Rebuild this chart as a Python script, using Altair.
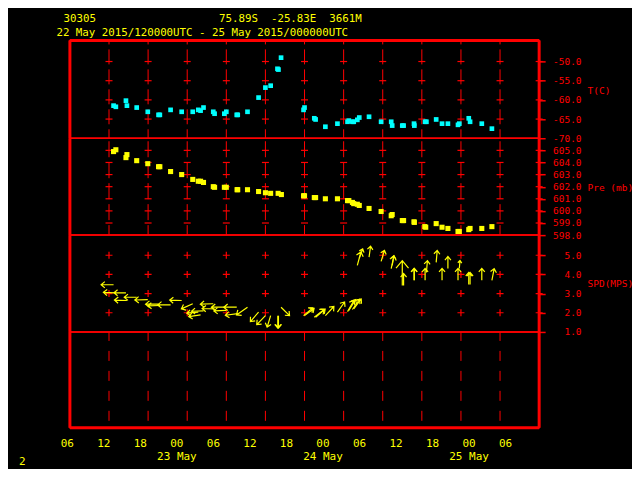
import altair as alt
import pandas as pd

RED = "#ff0000"
YEL = "#ffff00"
CYAN = "#00ffff"
FONT = "DejaVu Sans Mono"

# ---------------- data (hours after 22 May 2015 06 UTC) ----------------
t_hours = [6.7, 7.05, 8.6, 8.75, 10.25, 11.95, 13.6, 13.8, 15.45, 17.15, 18.85, 19.7,
           20.05, 20.5, 22.0, 22.2, 23.7, 24.0, 25.6, 25.75, 27.25, 28.95, 30.0, 30.8,
           31.85, 32.0, 32.4, 35.85, 36.0, 37.5, 37.7, 39.2, 41.05, 42.6, 42.8, 43.35,
           43.55, 44.1, 44.4, 45.9, 47.75, 49.3, 49.45, 51.0, 51.2, 52.8, 52.85, 54.5,
           54.7, 56.2, 57.1, 58.0, 59.55, 59.75, 61.2, 61.4, 63.2, 64.75]
t_vals = [-61.5, -61.8, -60.2, -61.5, -62.0, -63.1, -63.9, -63.9, -62.6, -63.1, -63.1, -62.6,
          -62.8, -62.0, -63.1, -63.6, -63.6, -63.1, -63.9, -63.9, -63.1, -59.4, -56.8, -56.3,
          -51.9, -52.1, -49.0, -62.6, -62.0, -64.8, -65.1, -67.0, -66.2, -65.7, -65.4, -65.7,
          -65.7, -65.2, -64.6, -64.4, -65.7, -65.7, -66.7, -66.7, -66.7, -66.2, -66.7, -65.7,
          -65.7, -65.1, -66.2, -66.2, -66.5, -66.2, -64.8, -65.7, -66.2, -67.5]

p_hours = [6.7, 7.05, 8.6, 8.75, 10.25, 11.95, 13.6, 13.8, 15.45, 17.15, 18.85, 19.7,
           20.05, 20.5, 22.0, 22.2, 23.7, 24.0, 25.65, 25.75, 27.25, 28.95, 30.0, 30.8,
           31.95, 32.45, 35.85, 36.0, 37.5, 37.7, 39.2, 41.05, 42.6, 42.8, 43.35, 43.55,
           44.1, 44.4, 45.9, 47.75, 49.3, 49.45, 51.0, 51.2, 52.8, 52.85, 54.45, 54.6,
           56.2, 57.1, 58.0, 59.55, 59.75, 61.2, 61.4, 63.2, 64.75]
p_vals = [604.9, 605.05, 604.4, 604.65, 604.15, 603.9, 603.65, 603.65, 603.25, 603.0, 602.6, 602.45,
          602.45, 602.35, 602.0, 601.95, 601.95, 601.95, 601.75, 601.75, 601.75, 601.6, 601.5, 601.45,
          601.45, 601.35, 601.25, 601.25, 601.1, 601.1, 601.0, 601.0, 600.85, 600.85, 600.7, 600.6,
          600.55, 600.45, 600.2, 599.95, 599.6, 599.7, 599.2, 599.2, 599.1, 599.05, 598.7, 598.65,
          598.95, 598.65, 598.55, 598.3, 598.3, 598.45, 598.55, 598.55, 598.7]

# wind: tail position (hour, speed m/s), direction the arrow points to
# (degrees clockwise from up) and arrow magnitude
w_hours = [6.7, 7.05, 8.6, 8.75, 10.25, 11.95, 13.6, 13.8, 15.45, 17.15, 18.85, 19.7,
           20.05, 20.5, 22.0, 22.2, 23.7, 24.0, 25.6, 25.75, 27.25, 28.95, 30.0, 30.8,
           31.9, 32.0, 32.4, 35.85, 36.0, 37.5, 37.7, 39.2, 41.05, 42.6, 42.8, 43.35,
           43.55, 44.1, 44.4, 45.9, 47.75, 49.3, 49.45, 51.0, 51.2, 52.8, 52.85, 54.5,
           54.7, 56.2, 57.1, 58.0, 59.55, 59.75, 61.2, 61.4, 63.2, 64.75]
w_spd = [3.46, 3.04, 3.04, 2.64, 2.81, 2.69, 2.45, 2.38, 2.41, 2.64, 2.47, 2.03,
         1.89, 2.1, 2.47, 2.2, 2.29, 2.12, 2.29, 1.96, 2.29, 2.03, 1.85, 1.85,
         1.85, 1.85, 2.29, 1.85, 1.85, 1.77, 1.77, 1.85, 2.03, 2.06, 2.12, 2.17,
         2.2, 4.47, 4.84, 4.9, 4.68, 4.3, 4.47, 3.42, 3.42, 3.69, 3.69, 3.69,
         4.1, 4.63, 3.69, 4.31, 3.69, 4.31, 3.48, 3.48, 3.69, 3.69]
w_dir = [270, 272, 270, 272, 270, 268, 270, 268, 270, 272, 246, 265,
         262, 268, 268, 272, 270, 268, 270, 262, 235, 221, 224, 197,
         180, 180, 135, 50, 53, 52, 50, 43, 35, 30, 32, 35,
         37, 15, 20, 8, 17, 12, 10, 0, 0, 0, 0, 0,
         5, 5, 0, 0, 0, 5, 0, 0, 0, 11]
w_mag = [2.5, 2.5, 2.4, 2.5, 2.5, 2.6, 2.6, 2.4, 2.6, 2.4, 2.5, 2.3,
         2.4, 2.4, 2.6, 2.5, 2.6, 2.5, 2.6, 2.5, 2.7, 2.5, 2.5, 2.4,
         2.5, 2.5, 2.4, 2.4, 2.4, 2.5, 2.5, 2.5, 2.5, 2.6, 2.6, 2.5,
         2.5, 2.8, 2.0, 2.2, 2.3, 2.6, 2.0, 5.0, 2.4, 2.4, 2.4, 2.4,
         2.4, 2.4, 2.4, 2.4, 2.4, 1.6, 2.4, 2.4, 2.4, 2.4]

hour_ticks = [6, 12, 18, 24, 30, 36, 42, 48, 54, 60, 66, 72]
hour_labels = ["06", "12", "18", "00", "06", "12", "18", "00", "06", "12", "18", "00", "06"]
date_labels = {3: "23 May", 7: "24 May", 11: "25 May"}
t_ticks = [-50, -55, -60, -65, -70]
p_ticks = [605, 604, 603, 602, 601, 600, 599, 598]
w_ticks = [5, 4, 3, 2, 1]

NB = "\u00a0"
title_line1 = "30305" + NB * 19 + "75.89S" + NB * 2 + "-25.83E" + NB * 2 + "3661M"
title_line2 = "22 May 2015/120000UTC - 25 May 2015/000000UTC".replace(" ", NB)

# ---------------- layout ----------------
W = 470
HT, HP, HW, HL = 98, 97, 97, 96
T_DOM = [-70, -44.5]
P_DOM = [598, 606]
W_DOM = [1, 6.05]
L_DOM = [0, 1]

xs = alt.Scale(domain=[0, 72], nice=False, zero=False)


def xenc(field="h"):
    return alt.X(f"{field}:Q", scale=xs, axis=None)


def right_axis(values, title, title_y):
    return alt.Axis(
        orient="right", values=values, domain=False, grid=False,
        tickColor=RED, tickSize=6, tickWidth=1.5,
        labelColor=RED, labelFont=FONT, labelFontSize=9.5,
        labelAlign="right", labelPadding=36, labelBaseline="middle",
        labelExpr="replace(format(datum.value, '.1f'), '\u2212', '-')",
        labelOverlap=False, labelFlush=False, labelBound=False,
        title=title, titleColor=RED, titleFont=FONT, titleFontSize=9.5,
        titleFontWeight="normal", titleAngle=0, titleAlign="left",
        titleBaseline="middle", titleX=48, titleY=title_y,
    )


def frame_layer(dom, top=False, bottom=False, yaxis=None):
    rows = [{"x": 0, "x2": 0, "y": dom[0], "y2": dom[1]},
            {"x": 72, "x2": 72, "y": dom[0], "y2": dom[1]}]
    if top:
        rows.append({"x": 0, "x2": 72, "y": dom[1], "y2": dom[1]})
    if bottom:
        rows.append({"x": 0, "x2": 72, "y": dom[0], "y2": dom[0]})
    ys = alt.Scale(domain=dom, nice=False, zero=False)
    return alt.Chart(pd.DataFrame(rows)).mark_rule(color=RED, strokeWidth=3).encode(
        x=xenc("x"), x2="x2:Q",
        y=alt.Y("y:Q", scale=ys, axis=yaxis), y2="y2:Q")


def vlines(dom, dash, offset, yaxis=None):
    ys = alt.Scale(domain=dom, nice=False, zero=False)
    df = pd.DataFrame({"h": hour_ticks[:-1]})
    df["y"] = dom[0]
    df["y2"] = dom[1]
    return alt.Chart(df).mark_rule(color=RED, strokeWidth=1, strokeDash=dash,
                                   strokeDashOffset=offset).encode(
        x=xenc(), y=alt.Y("y:Q", scale=ys, axis=yaxis), y2="y2:Q")


def crosses(dom, levels, shape, yaxis=None):
    ys = alt.Scale(domain=dom, nice=False, zero=False)
    df = pd.DataFrame([{"h": h, "y": v} for h in hour_ticks for v in levels])
    return alt.Chart(df).mark_point(shape=shape, size=49, filled=False, stroke=RED,
                                    strokeWidth=1.2, opacity=1).encode(
        x=xenc(), y=alt.Y("y:Q", scale=ys, axis=yaxis))


BAR = "M-1,0L1,0"
PLUS = "M-1,0L1,0M0,-1L0,1"
ARROW = "M0,0L0,-2M-0.5,-1.4L0,-2L0.5,-1.4"

# --- temperature panel ---
t_axis = right_axis(t_ticks, "T(C)", 50)
t_scale = alt.Scale(domain=T_DOM, nice=False, zero=False)
t_df = pd.DataFrame({"h": t_hours, "T": t_vals})
t_points = alt.Chart(t_df).mark_square(size=22, color=CYAN, opacity=1).encode(
    x=xenc(), y=alt.Y("T:Q", scale=t_scale, axis=t_axis))
t_panel = alt.layer(
    vlines(T_DOM, [15, 5], 6, t_axis),
    crosses(T_DOM, t_ticks[:-1], BAR, t_axis),
    frame_layer(T_DOM, top=True, yaxis=t_axis),
    t_points,
).properties(
    width=W, height=HT,
    title=alt.TitleParams(title_line2, anchor="start", frame="group",
                          color=YEL, font=FONT, fontSize=10.8, fontWeight="normal",
                          offset=1, dx=-13.5),
)

# --- pressure panel ---
p_axis = right_axis(p_ticks, "Pre (mb)", 49)
p_scale = alt.Scale(domain=P_DOM, nice=False, zero=False)
p_df = pd.DataFrame({"h": p_hours, "P": p_vals})
p_points = alt.Chart(p_df).mark_square(size=26, color=YEL, opacity=1).encode(
    x=xenc(), y=alt.Y("P:Q", scale=p_scale, axis=p_axis))
p_panel = alt.layer(
    vlines(P_DOM, [16, 5], 6, p_axis),
    crosses(P_DOM, p_ticks[1:-1] + [605], BAR, p_axis),
    frame_layer(P_DOM, yaxis=p_axis),
    p_points,
).properties(width=W, height=HP)

# --- wind panel ---
w_axis = right_axis(w_ticks, "SPD(MPS)", 48)
w_scale = alt.Scale(domain=W_DOM, nice=False, zero=False)
w_df = pd.DataFrame({"h": w_hours, "spd": w_spd, "dir": w_dir, "mag": w_mag})
w_arrows = alt.Chart(w_df).mark_point(shape=ARROW, filled=False, stroke=YEL,
                                      strokeWidth=1.2, opacity=1).encode(
    x=xenc(), y=alt.Y("spd:Q", scale=w_scale, axis=w_axis),
    angle=alt.Angle("dir:Q", scale=None),
    size=alt.Size("mag:Q", scale=alt.Scale(type="pow", exponent=2, domain=[0, 10],
                                           range=[0, 2500]), legend=None))
w_panel = alt.layer(
    crosses(W_DOM, w_ticks[:-1], PLUS, w_axis),
    frame_layer(W_DOM, yaxis=w_axis),
    w_arrows,
).properties(width=W, height=HW)

# --- empty bottom panel with time labels ---
lab_expr = "[" + ",".join(
    "[" + ",".join(f"'{s.replace(' ', NB)}'" for s in ([hl] + ([date_labels[i]] if i in date_labels else []))) + "]"
    for i, hl in enumerate(hour_labels)) + "][datum.value]"
lab_df = pd.DataFrame({"i": list(range(len(hour_labels)))})
lab_layer = alt.Chart(lab_df).mark_point(opacity=0, size=1).encode(
    x=alt.X("i:Q", scale=alt.Scale(domain=[0, 12], range=[-3.1, 435.9], nice=False, zero=False),
            axis=alt.Axis(orient="bottom", values=list(range(len(hour_labels))),
                          labelExpr=lab_expr, domain=False, ticks=False, grid=False,
                          labelColor=YEL, labelFont=FONT, labelFontSize=11,
                          labelLineHeight=13, labelPadding=10, labelBaseline="top",
                          labelOverlap=False, labelFlush=False, labelBound=False,
                          title=None)),
    y=alt.Y("i:Q", scale=alt.Scale(domain=[0, 100]), axis=None))
l_panel = alt.layer(
    vlines(L_DOM, [10, 10], 13),
    frame_layer(L_DOM, bottom=True),
    lab_layer,
).resolve_scale(x="independent", y="independent").properties(
    width=W, height=HL,
    title=alt.TitleParams("2", orient="bottom", anchor="start", frame="group",
                          color=YEL, font=FONT, fontSize=11, fontWeight="normal",
                          dx=-51, offset=-5.5),
)

chart = alt.vconcat(t_panel, p_panel, w_panel, l_panel, spacing=0, bounds="flush").properties(
    background="black",
    padding={"left": 10, "top": 4.1, "right": -2, "bottom": 0},
    title=alt.TitleParams(title_line1, anchor="start", frame="group",
                          color=YEL, font=FONT, fontSize=10.8, fontWeight="normal",
                          offset=3, dx=-6.4),
).configure_view(stroke=RED, strokeWidth=1.5)

chart.save("out.html", embed_options={"renderer": "svg", "actions": False})
